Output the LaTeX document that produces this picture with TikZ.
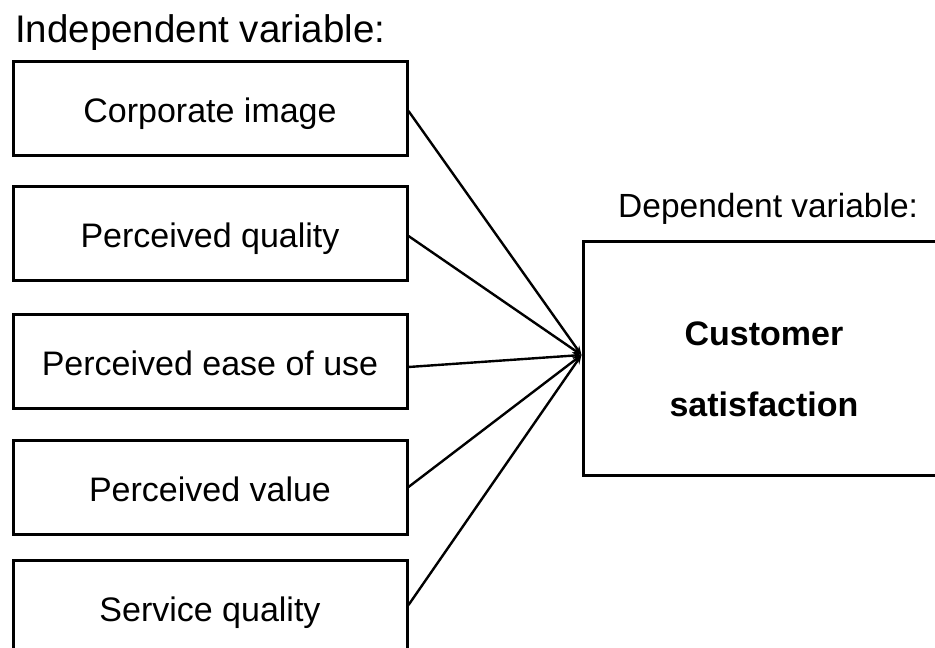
\documentclass[tikz,border=0pt]{standalone}
\usepackage{fontspec}
\setmainfont{Liberation Sans}
\usetikzlibrary{arrows.meta,calc}
\begin{document}
\begin{tikzpicture}[x=1pt,y=-1pt,
  ivbox/.style={draw,line width=3pt,minimum width=394pt,minimum height=94pt,inner sep=0pt,text height=28pt,text depth=0pt,font=\fontsize{34}{40}\selectfont},
  dvbox/.style={draw,line width=3pt,minimum width=362pt,minimum height=234pt,inner sep=0pt},
  dvtext/.style={inner sep=0pt,font=\fontsize{34}{40}\selectfont\bfseries},
  link/.style={line width=2.4pt,-{Stealth[length=9pt,width=7pt]}},
  hdr/.style={inner sep=0pt,anchor=base west}]
\useasboundingbox (0,0) rectangle (935,648);
\node[hdr,font=\fontsize{38.5}{44}\selectfont] (ivlab) at (15,42) {Independent variable:};
\node[hdr,font=\fontsize{33.5}{40}\selectfont] (dvlab) at (618,217) {Dependent variable:};
\node[ivbox] (b1) at (210,108.5) {Corporate image};
\node[ivbox] (b2) at (210,233) {Perceived quality};
\node[ivbox] (b3) at (210,361.5) {Perceived ease of use};
\node[ivbox] (b4) at (210,487) {Perceived value};
\node[ivbox] (b5) at (210,607) {Service quality};
\node[dvbox] (dv) at (764,358) {};
\node[dvtext] (dv1) at (764,334) {Customer};
\node[dvtext] (dv2) at (764,404) {satisfaction};
\coordinate (hub) at ($(dv.west)+(0,-3)$);
\draw[link] ($(b1.east)+(0,2.5)$) -- (hub);
\draw[link] ($(b2.east)+(0,3)$) -- (hub);
\draw[link] ($(b3.east)+(0,5.5)$) -- (hub);
\draw[link] (b4.east) -- (hub);
\draw[link] ($(b5.east)+(0,-2)$) -- (hub);
\end{tikzpicture}
\end{document}
